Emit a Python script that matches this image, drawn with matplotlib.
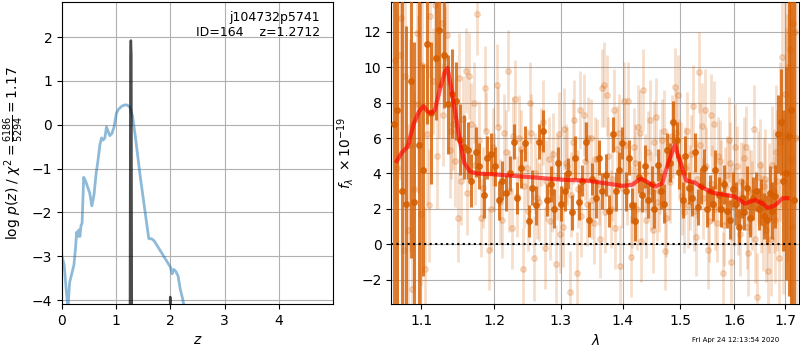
import numpy as np
import matplotlib
matplotlib.use('Agg')
import matplotlib.pyplot as plt
from matplotlib.ticker import NullLocator, FixedLocator, FixedFormatter

# p(z) curve, coarse grid
pz_z = [0.0, 0.04, 0.08, 0.11, 0.14, 0.18, 0.22, 0.25, 0.27, 0.29, 0.31, 0.33,
        0.35, 0.37, 0.40, 0.44, 0.48, 0.51, 0.55, 0.59, 0.63, 0.66, 0.70, 0.73,
        0.76, 0.79, 0.82, 0.85, 0.88, 0.92, 0.96, 1.00, 1.04, 1.10, 1.15, 1.20,
        1.25, 1.30, 1.35, 1.40, 1.45, 1.50, 1.55, 1.60, 1.65, 1.70, 1.75, 1.80,
        1.85, 1.90, 1.95, 2.00, 2.03, 2.06, 2.10, 2.14, 2.18, 2.22, 2.26]
pz_logp = [-3.0, -3.2, -3.8, -4.2, -3.6, -3.4, -3.2, -2.8, -2.45, -2.55, -2.4, -2.55,
           -2.3, -2.25, -1.2, -1.3, -1.45, -1.55, -1.85, -1.6, -1.1, -0.85, -0.45, -0.3,
           -0.35, -0.3, -0.05, -0.15, -0.25, -0.2, -0.05, 0.25, 0.35, 0.42, 0.45, 0.45,
           0.4, 0.2, -0.25, -0.75, -1.25, -1.7, -2.15, -2.6, -2.6, -2.65, -2.75, -2.85,
           -2.95, -3.05, -3.15, -3.25, -3.4, -3.3, -3.35, -3.45, -3.75, -3.95, -4.2]

# fine-grid spikes
zfine = [1.252, 1.262, 1.27, 1.278, 1.288, 1.985, 1.995, 2.005]
logp_fine = [-5.0, 1.6, 1.92, 1.6, -5.0, -5.0, -3.93, -5.0]

# G141 spectrum, beam 1 (dark)
wave1 = [1.064, 1.069, 1.075, 1.080, 1.086, 1.091, 1.097, 1.102, 1.108, 1.113,
         1.119, 1.124, 1.130, 1.135, 1.141, 1.146, 1.152, 1.157, 1.163, 1.168,
         1.174, 1.179, 1.185, 1.190, 1.196, 1.201, 1.207, 1.212, 1.218, 1.223,
         1.229, 1.234, 1.240, 1.245, 1.251, 1.256, 1.262, 1.267, 1.273, 1.278,
         1.284, 1.289, 1.295, 1.300, 1.306, 1.311, 1.317, 1.322, 1.328, 1.333,
         1.339, 1.344, 1.350, 1.355, 1.361, 1.366, 1.372, 1.377, 1.383, 1.388,
         1.394, 1.399, 1.405, 1.410, 1.416, 1.421, 1.427, 1.432, 1.438, 1.443,
         1.449, 1.454, 1.460, 1.465, 1.471, 1.476, 1.482, 1.487, 1.493, 1.498,
         1.504, 1.509, 1.515, 1.520, 1.526, 1.531, 1.537, 1.542, 1.548, 1.553,
         1.559, 1.564, 1.570, 1.575, 1.581, 1.586, 1.592, 1.597, 1.603, 1.608,
         1.614, 1.619, 1.625, 1.630, 1.636, 1.641, 1.647, 1.652, 1.658, 1.663,
         1.669, 1.674, 1.680, 1.685, 1.691, 1.696, 1.702, 1.707, 1.713, 1.718]
flux1 = [6.8, 7.6, 3.0, 2.3, 9.2, 2.4, 5.6, 4.2, 11.3, 7.4,
         10.5, 12.1, 10.7, 7.9, 8.5, 8.1, 5.9, 5.5, 5.3, 3.6,
         5.2, 4.4, 2.8, 4.9, 5.1, 4.4, 2.5, 3.6, 2.9, 4.0,
         5.8, 2.6, 4.3, 5.7, 1.3, 3.2, 2.2, 5.8, 6.4, 2.5,
         3.4, 2.0, 4.6, 2.3, 3.0, 4.0, 1.8, 4.9, 2.4, 3.6,
         5.8, 1.4, 3.7, 2.6, 4.9, 3.0, 3.9, 1.9, 6.2, 3.0,
         4.2, 5.7, 3.0, 4.9, 2.2, 1.3, 3.8, 2.8, 4.4, 2.5,
         3.4, 2.0, 4.5, 3.0, 2.3, 5.3, 4.6, 6.9, 5.9, 4.1,
         2.5, 5.0, 3.2, 2.6, 5.2, 2.1, 3.3, 4.3, 2.0, 3.0,
         2.3, 4.2, 2.8, 2.0, 3.4, 1.9, 1.4, 3.1, 2.3, 1.0,
         2.6, 1.8, 3.2, 1.5, 2.6, 3.0, 2.0, 2.4, 1.6, 1.4,
         2.9, 1.9, 2.7, 6.2, 6.9, 3.6, 4.0, 6.1, 7.6, 2.5]
err1 = [12.0, 11.0, 11.0, 10.0, 10.0, 9.0, 9.0, 6.0, 4.5, 4.0,
        3.5, 3.2, 3.0, 2.8, 2.5, 2.2, 2.0, 1.8, 1.6, 1.5,
        1.4, 1.3, 1.3, 1.2, 1.2, 1.1, 1.1, 1.1, 1.0, 1.0,
        1.0, 0.9, 1.1, 1.0, 0.9, 1.0, 1.1, 1.0, 1.2, 0.9,
        1.0, 1.1, 0.9, 1.0, 1.1, 0.9, 1.0, 1.2, 1.0, 0.9,
        1.1, 1.0, 0.9, 1.1, 1.0, 1.0, 1.2, 0.9, 1.0, 1.1,
        1.0, 0.9, 1.1, 1.0, 1.0, 1.1, 0.9, 1.0, 1.2, 1.0,
        1.0, 1.1, 0.9, 1.0, 1.1, 1.0, 1.1, 1.2, 1.0, 1.0,
        1.0, 1.1, 0.9, 1.0, 1.1, 1.0, 1.0, 1.1, 1.0, 0.9,
        1.0, 1.1, 1.0, 1.0, 1.1, 1.0, 1.1, 1.0, 1.2, 1.0,
        1.1, 1.0, 1.2, 1.1, 1.2, 1.1, 1.2, 1.3, 1.3, 1.4,
        1.5, 1.6, 1.8, 2.2, 3.0, 4.0, 6.0, 9.0, 12.0, 15.0]

# G141 spectrum, beam 2 (light)
wave2 = [1.066, 1.072, 1.077, 1.083, 1.088, 1.094, 1.099, 1.105, 1.110, 1.116,
         1.121, 1.127, 1.132, 1.138, 1.143, 1.149, 1.154, 1.160, 1.165, 1.171,
         1.176, 1.182, 1.187, 1.193, 1.198, 1.204, 1.209, 1.215, 1.220, 1.226,
         1.231, 1.237, 1.242, 1.248, 1.253, 1.259, 1.264, 1.270, 1.275, 1.281,
         1.286, 1.292, 1.297, 1.303, 1.308, 1.314, 1.319, 1.325, 1.330, 1.336,
         1.341, 1.347, 1.352, 1.358, 1.363, 1.369, 1.374, 1.380, 1.385, 1.391,
         1.396, 1.402, 1.407, 1.413, 1.418, 1.424, 1.429, 1.435, 1.440, 1.446,
         1.451, 1.457, 1.462, 1.468, 1.473, 1.479, 1.484, 1.490, 1.495, 1.501,
         1.506, 1.512, 1.517, 1.523, 1.528, 1.534, 1.539, 1.545, 1.550, 1.556,
         1.561, 1.567, 1.572, 1.578, 1.583, 1.589, 1.594, 1.600, 1.605, 1.611,
         1.616, 1.622, 1.627, 1.633, 1.638, 1.644, 1.649, 1.655, 1.660, 1.666,
         1.671, 1.677, 1.682, 1.688, 1.693, 1.699, 1.704, 1.710, 1.715, 1.721]
flux2 = [10.4, 10.7, -0.3, 0.8, -2.5, 11.9, 1.7, -1.4, 2.2, 9.2,
         5.0, 12.5, 10.6, 5.3, 6.8, 1.5, 3.6, 9.8, 9.5, 8.0,
         13.0, 1.5, 8.8, -0.3, 5.5, 9.0, 2.4, 6.3, 9.8, 0.9,
         8.2, 6.0, -1.4, 4.3, 8.0, -0.8, 2.6, 5.5, -0.2, 4.8,
         3.0, -1.1, 6.2, 1.0, 4.6, -2.7, 5.8, -1.6, 7.6, 7.3,
         2.3, 6.0, 1.2, 4.8, 0.3, 9.0, 8.4, 2.0, 7.6, 5.4,
         -1.2, 8.1, 3.5, -0.7, 5.5, 2.0, 6.3, 8.7, 1.4, 7.0,
         0.8, 7.2, 3.0, 5.9, -0.4, 3.8, 6.1, 8.9, 8.4, 4.5,
         1.8, 6.4, 3.2, 7.8, 0.4, 9.7, 6.7, 7.6, -0.3, 7.3,
         6.8, 1.2, 4.7, -1.6, 3.3, 5.9, -1.0, 2.1, 4.4, 0.6,
         3.4, 5.5, -0.5, 2.9, 6.5, -3.0, 4.5, 1.2, 3.7, -1.5,
         0.3, 3.0, 5.2, -0.8, 10.6, 8.5, 6.0, 11.0, 1.0, 12.0]
err2 = [8.0, 7.0, 6.0, 6.0, 5.0, 5.0, 4.0, 3.5, 3.2, 3.0,
        3.0, 2.9, 2.8, 2.7, 2.6, 2.5, 2.5, 2.4, 2.4, 2.3,
        2.3, 2.2, 2.4, 2.3, 2.2, 2.3, 2.4, 2.2, 2.3, 2.3,
        2.2, 2.4, 2.3, 2.2, 2.3, 2.4, 2.3, 2.2, 2.3, 2.4,
        2.3, 2.2, 2.4, 2.3, 2.2, 2.3, 2.4, 2.3, 2.2, 2.3,
        2.4, 2.2, 2.3, 2.3, 2.2, 2.4, 2.3, 2.2, 2.3, 2.4,
        2.3, 2.2, 2.4, 2.3, 2.2, 2.3, 2.4, 2.3, 2.2, 2.3,
        2.4, 2.2, 2.3, 2.3, 2.2, 2.4, 2.3, 2.2, 2.3, 2.4,
        2.3, 2.2, 2.4, 2.3, 2.2, 2.3, 2.4, 2.3, 2.2, 2.3,
        2.4, 2.2, 2.3, 2.3, 2.2, 2.4, 2.3, 2.2, 2.3, 2.4,
        2.3, 2.3, 2.4, 2.4, 2.5, 2.5, 2.6, 2.7, 2.8, 3.0,
        3.2, 3.5, 3.8, 4.2, 5.0, 6.0, 7.0, 8.0, 9.0, 10.0]

# G141 spectrum, beam 3 (light)
wave3 = [1.068, 1.074, 1.079, 1.085, 1.090, 1.096, 1.101, 1.107, 1.112, 1.118,
         1.123, 1.129, 1.134, 1.140, 1.145, 1.151, 1.156, 1.162, 1.167, 1.173,
         1.178, 1.184, 1.189, 1.195, 1.200, 1.206, 1.211, 1.217, 1.222, 1.228,
         1.233, 1.239, 1.244, 1.250, 1.255, 1.261, 1.266, 1.272, 1.277, 1.283,
         1.288, 1.294, 1.299, 1.305, 1.310, 1.316, 1.321, 1.327, 1.332, 1.338,
         1.343, 1.349, 1.354, 1.360, 1.365, 1.371, 1.376, 1.382, 1.387, 1.393,
         1.398, 1.404, 1.409, 1.415, 1.420, 1.426, 1.431, 1.437, 1.442, 1.448,
         1.453, 1.459, 1.464, 1.470, 1.475, 1.481, 1.486, 1.492, 1.497, 1.503,
         1.508, 1.514, 1.519, 1.525, 1.530, 1.536, 1.541, 1.547, 1.552, 1.558,
         1.563, 1.569, 1.574, 1.580, 1.585, 1.591, 1.596, 1.602, 1.607, 1.613,
         1.618, 1.624, 1.629, 1.635, 1.640, 1.646, 1.651, 1.657, 1.662, 1.668,
         1.673, 1.679, 1.684, 1.690, 1.695, 1.701, 1.706, 1.712, 1.717, 1.723]
flux3 = [4.3, 12.8, 9.5, 5.6, 3.1, 7.9, 10.1, 6.2, 12.9, 13.5,
         9.0, 7.3, 11.8, 6.4, 4.7, 9.4, 7.1, 2.9, 6.8, 4.5,
         5.9, 3.2, 6.4, 2.0, 4.1, 6.6, 1.4, 5.2, 3.0, 6.1,
         2.7, 5.4, 3.3, 1.9, 6.3, 4.0, 2.4, 6.9, 3.6, 1.3,
         5.1, 3.8, 0.6, 6.5, 4.4, 2.8, 7.0, 3.1, 1.6, 4.7,
         6.0, 2.5, 4.8, 3.4, 8.8, 1.8, 5.0, 3.7, 0.9, 6.3,
         3.2, 5.6, 8.1, 2.1, 4.6, 6.6, 0.2, 4.0, 5.2, 3.0,
         5.8, 2.4, 4.1, 6.4, 1.5, 3.5, 5.9, 6.3, 4.8, 2.7,
         4.3, 2.2, 5.1, 1.9, 3.7, 5.6, 2.6, 4.4, 1.3, 3.4,
         2.0, 5.0, 3.5, 1.1, 3.9, 4.6, 2.4, 5.5, 1.7, 3.6,
         4.9, 1.0, 3.0, 2.2, 0.3, 3.8, 2.1, 3.3, 0.8, 2.6,
         4.5, 1.4, 3.6, 5.8, 2.2, 6.2, 10.0, 4.8, 12.5, 6.0]
err3 = [9.0, 8.0, 7.0, 6.0, 5.5, 5.0, 4.5, 4.0, 3.5, 3.2,
        3.0, 2.9, 2.8, 2.7, 2.6, 2.5, 2.4, 2.4, 2.3, 2.3,
        2.2, 2.3, 2.2, 2.4, 2.2, 2.3, 2.2, 2.4, 2.3, 2.2,
        2.3, 2.2, 2.4, 2.3, 2.2, 2.3, 2.2, 2.4, 2.3, 2.2,
        2.3, 2.4, 2.2, 2.3, 2.2, 2.4, 2.3, 2.2, 2.3, 2.2,
        2.3, 2.2, 2.4, 2.3, 2.2, 2.3, 2.2, 2.4, 2.3, 2.2,
        2.3, 2.4, 2.2, 2.3, 2.2, 2.4, 2.3, 2.2, 2.3, 2.2,
        2.3, 2.2, 2.4, 2.3, 2.2, 2.3, 2.2, 2.4, 2.3, 2.2,
        2.3, 2.4, 2.2, 2.3, 2.2, 2.4, 2.3, 2.2, 2.3, 2.2,
        2.3, 2.2, 2.4, 2.3, 2.2, 2.3, 2.2, 2.4, 2.3, 2.2,
        2.3, 2.4, 2.4, 2.5, 2.5, 2.6, 2.6, 2.7, 2.9, 3.1,
        3.3, 3.6, 4.0, 4.5, 5.0, 6.0, 7.5, 8.5, 9.5, 11.0]

# best-fit model
model_wave = [1.068, 1.075, 1.082, 1.090, 1.097, 1.103, 1.108, 1.113, 1.118, 1.125,
              1.131, 1.135, 1.140, 1.146, 1.152, 1.158, 1.166, 1.175, 1.20, 1.25,
              1.30, 1.34, 1.37, 1.40, 1.415, 1.43, 1.44, 1.455, 1.468, 1.478,
              1.490, 1.498, 1.510, 1.525, 1.54, 1.56, 1.58, 1.60, 1.62, 1.64,
              1.655, 1.665, 1.68, 1.695, 1.705]
model_flux = [4.7, 5.2, 5.5, 6.8, 7.5, 7.8, 7.5, 7.4, 7.6, 8.8,
              9.7, 9.95, 8.8, 7.3, 5.8, 4.6, 4.1, 4.0, 3.95, 3.8,
              3.65, 3.6, 3.45, 3.3, 3.35, 3.7, 3.55, 3.25, 3.45, 4.6,
              5.6, 4.8, 3.6, 3.5, 3.2, 2.9, 2.8, 2.7, 2.3, 2.5,
              2.3, 2.05, 2.2, 2.6, 2.6]

g141 = (0.8352941176470589, 0.3686274509803922, 0.0)

fig = plt.figure(figsize=(8, 3.5), dpi=100)
ax1 = fig.add_axes([0.0775, 0.1314, 0.339, 0.863])
ax2 = fig.add_axes([0.489, 0.1314, 0.51, 0.863])

# p(z)
ax1.plot(pz_z, pz_logp, color='tab:blue', alpha=0.5, lw=2)
ax1.plot(zfine, logp_fine, color='k', alpha=0.7, lw=1.8)
ax1.set_xlim(0, 5.0)
ax1.set_ylim(-4.09, 2.8)
ax1.set_xticks([0, 1, 2, 3, 4])
ax1.set_yticks([-4, -3, -2, -1, 0, 1, 2])
ax1.grid()
ax1.set_xlabel('$z$')
ax1.set_ylabel(r'log $p(z)$ / $\chi^2=\frac{6186}{5294}=1.17$')
ax1.text(0.95, 0.97, 'j104732p5741\nID=164    z=1.2712', transform=ax1.transAxes,
         ha='right', va='top', fontsize=9, multialignment='right')

# spectrum
for w, f, e in [(wave2, flux2, err2), (wave3, flux3, err3)]:
    ax2.errorbar(w, f, e, color=g141, alpha=0.2, marker='o', ms=4,
                 linestyle='None', elinewidth=2, zorder=2)
ax2.errorbar(wave1, flux1, err1, color=g141, alpha=0.8, marker='o', ms=4,
             linestyle='None', elinewidth=2.2, zorder=3)
ax2.plot(model_wave, model_flux, color='r', alpha=0.65, lw=3, zorder=5)
ax2.axhline(0, color='k', linestyle=':', lw=1.5, zorder=4)
ax2.set_xscale('log')
ax2.set_xlim(1.061, 1.729)
ax2.set_ylim(-3.37, 13.68)
xt = [1.1, 1.2, 1.3, 1.4, 1.5, 1.6, 1.7]
ax2.xaxis.set_major_locator(FixedLocator(xt))
ax2.xaxis.set_major_formatter(FixedFormatter(['%.1f' % v for v in xt]))
ax2.xaxis.set_minor_locator(NullLocator())
ax2.set_yticks([-2, 0, 2, 4, 6, 8, 10, 12])
ax2.grid()
ax2.set_xlabel(r'$\lambda$')
ax2.set_ylabel(r'$f_\lambda\ \times 10^{-19}$')

fig.text(0.919, 0.028, 'Fri Apr 24 12:13:54 2020', fontsize=5, ha='center', va='center')

fig.savefig('out.png', dpi=100)
